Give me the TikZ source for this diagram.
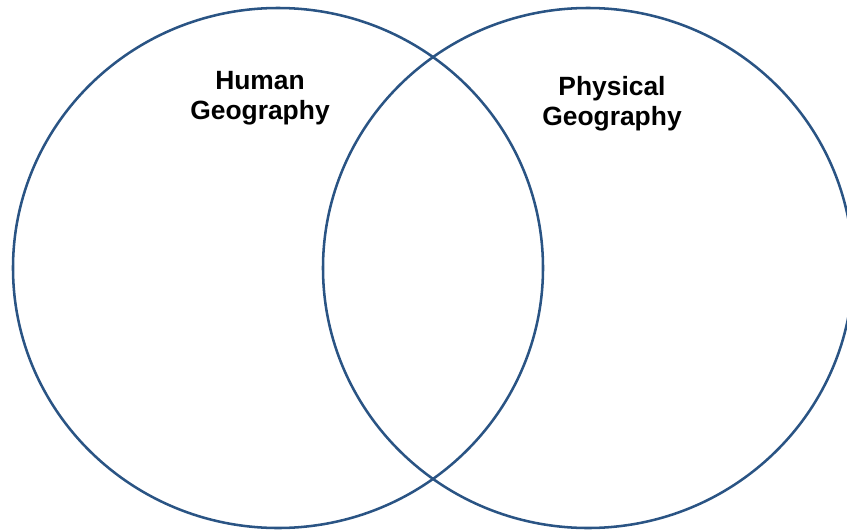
\documentclass[tikz,border=0pt]{standalone}
\usepackage{fontspec}
\setmainfont{Liberation Sans}
\usetikzlibrary{positioning,calc}
\definecolor{VennBlue}{RGB}{42,84,132}
\tikzset{
  ring/.style={draw=VennBlue,line width=1.9pt},
  title/.style={font=\bfseries\fontsize{19.8}{22.5}\selectfont,align=center,inner sep=0pt,anchor=north},
}

\begin{document}
\begin{tikzpicture}[x=0.75pt,y=-0.75pt]
\useasboundingbox (0,0) rectangle (847,529);
\clip (0,0) rectangle (847,529);
\coordinate (hc) at (278,268);
\coordinate (pc) at (588,268);
\draw[ring] (hc) ellipse (198.75pt and 195pt);
\draw[ring] (pc) ellipse (198.75pt and 195pt);
\node[title] (human) at (260,71) {Human\\Geography};
\node[title] (physical) at (612,76) {Physical\\Geography};
\end{tikzpicture}
\end{document}
